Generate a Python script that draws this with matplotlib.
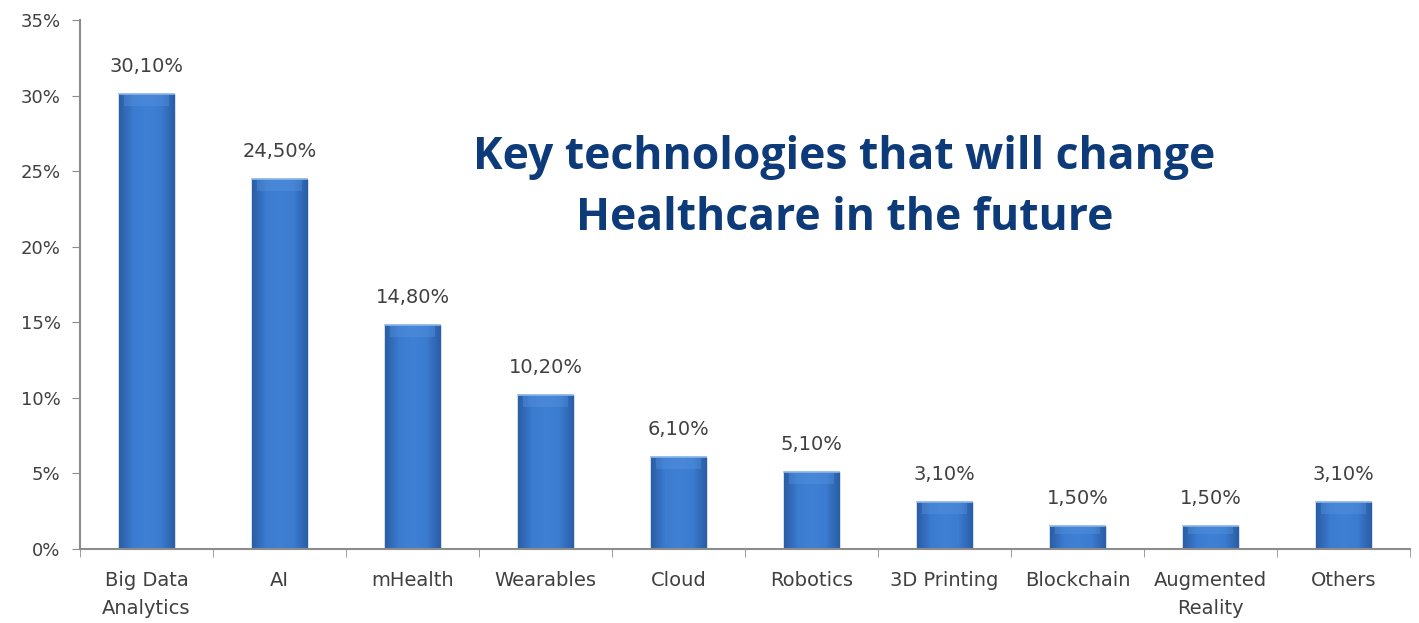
import matplotlib
matplotlib.use("Agg")
import matplotlib.pyplot as plt
import numpy as np
from matplotlib.colors import LinearSegmentedColormap

categories = ["Big Data\nAnalytics", "AI", "mHealth", "Wearables", "Cloud",
              "Robotics", "3D Printing", "Blockchain", "Augmented\nReality", "Others"]
values = [30.1, 24.5, 14.8, 10.2, 6.1, 5.1, 3.1, 1.5, 1.5, 3.1]
value_labels = ["30,10%", "24,50%", "14,80%", "10,20%", "6,10%",
                "5,10%", "3,10%", "1,50%", "1,50%", "3,10%"]
yticks = [0, 5, 10, 15, 20, 25, 30, 35]

fig = plt.figure(figsize=(14.19, 6.23), dpi=100)
ax = fig.add_axes([0.0564, 0.1188, 0.9373, 0.8492])

x = np.arange(len(categories))
bars = ax.bar(x, values, width=0.42, color="#3b7bd0", edgecolor="#24579e", linewidth=1.0, zorder=2)

# horizontal gradient inside each bar (darker at the sides)
cmap = LinearSegmentedColormap.from_list("barg", ["#2a5ea6", "#3b7bd0", "#3f80d4", "#3b7bd0", "#2a5ea6"])
grad = np.linspace(0, 1, 64).reshape(1, -1)
for b in bars:
    x0, w, h = b.get_x(), b.get_width(), b.get_height()
    im = ax.imshow(grad, cmap=cmap, aspect="auto", extent=(x0, x0 + w, 0, h), zorder=2.5)
    im.set_clip_path(b)
    # soft bevel at the top
    top = min(0.8, h * 0.35)
    ax.fill_between([x0 + w * 0.1, x0 + w * 0.9], h - top, h - 0.05,
                    color="#5d98e2", alpha=0.35, zorder=2.6, linewidth=0)
    ax.plot([x0, x0 + w], [h, h], color="#8fb8ec", linewidth=1.2, zorder=2.7)

for xi, v, lab in zip(x, values, value_labels):
    ax.annotate(lab, (xi, v), xytext=(0, 13), textcoords="offset points",
                ha="center", va="bottom", fontsize=14, color="#404040")

ax.set_xlim(-0.5, len(categories) - 0.5)
ax.set_ylim(0, 35)
ax.set_yticks(yticks)
ax.set_yticklabels([f"{t}%" for t in yticks], fontsize=13, color="#404040")
ax.set_xticks(x)
ax.set_xticklabels(categories, fontsize=14, color="#404040", linespacing=1.6)
ax.set_xticks(np.arange(len(categories) + 1) - 0.5, minor=True)
ax.tick_params(axis="x", which="major", length=0, pad=16)
ax.tick_params(axis="x", which="minor", length=6, color="#8c8c8c", direction="out")
ax.tick_params(axis="y", length=6, color="#8c8c8c", pad=8)

for s in ["top", "right"]:
    ax.spines[s].set_visible(False)
ax.spines["left"].set_color("#8c8c8c")
ax.spines["bottom"].set_color("#8c8c8c")
ax.spines["left"].set_linewidth(1.5)
ax.spines["bottom"].set_linewidth(1.5)

fig.text(0.595, 0.698, "Key technologies that will change\nHealthcare in the future",
         ha="center", va="center", fontsize=32, fontweight="bold", color="#0d3a78",
         family="Open Sans", linespacing=1.45)

fig.savefig("out.png", dpi=100)
